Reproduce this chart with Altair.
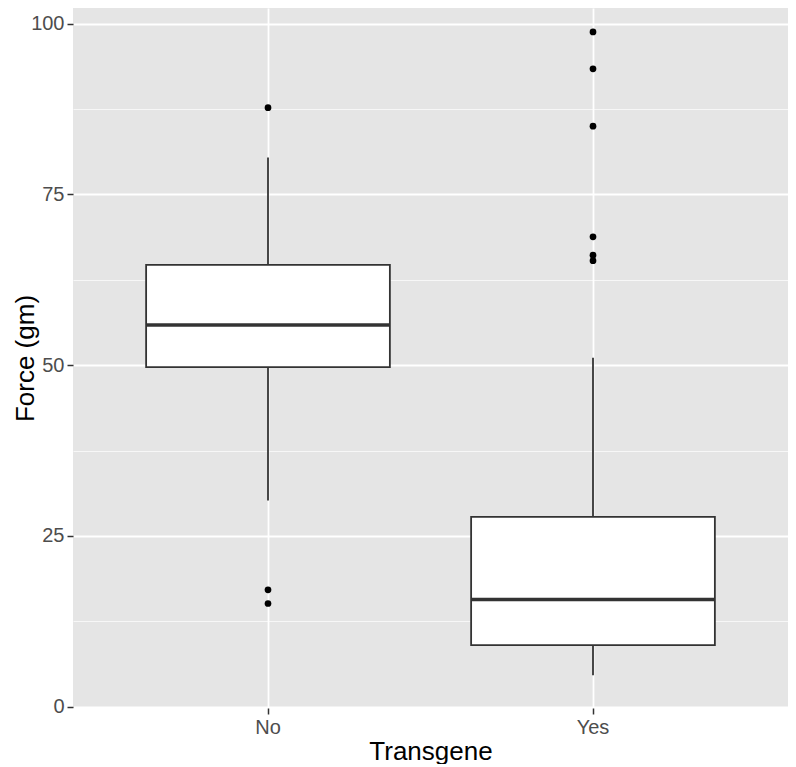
import altair as alt
import pandas as pd

groups = ["No", "Yes"]
q1 = [49.7, 9.0]
median = [55.9, 15.7]
q3 = [64.7, 27.8]
whisker_lo = [30.2, 4.6]
whisker_hi = [80.4, 51.1]

outlier_group = ["No", "No", "No", "Yes", "Yes", "Yes", "Yes", "Yes", "Yes"]
outlier_value = [87.7, 17.1, 15.1, 98.8, 93.4, 85.0, 68.8, 66.1, 65.3]

y_ticks = [0, 12.5, 25, 37.5, 50, 62.5, 75, 87.5, 100]

stats = pd.DataFrame({"g": groups, "q1": q1, "med": median, "q3": q3,
                      "lo": whisker_lo, "hi": whisker_hi})
outs = pd.DataFrame({"g": outlier_group, "v": outlier_value})

W, H = 715, 700
FONT = "Liberation Sans"

major = "datum.value % 25 === 0"

xscale = alt.Scale(domain=groups, paddingInner=0.25, paddingOuter=0.225)
yscale = alt.Scale(domain=[-0.2, 102.3], nice=False, zero=False)

xaxis = alt.Axis(title="Transgene", labelAngle=0, labelFontSize=20, labelColor="#4D4D4D",
                 labelFont=FONT, titleFont=FONT, titleFontSize=26, titleColor="#000000",
                 titleFontWeight="normal", tickColor="#333333", tickSize=6, tickWidth=1.5,
                 labelPadding=3, titlePadding=1,
                 domain=False, grid=True, gridColor="#FFFFFF", gridWidth=1.8)
yaxis = alt.Axis(title="Force (gm)", values=y_ticks, labelFontSize=20, labelColor="#4D4D4D",
                 labelFont=FONT, titleFont=FONT, titleFontSize=26, titleColor="#000000",
                 titleFontWeight="normal", tickColor="#333333", tickSize=6, tickWidth=1.5,
                 tickOpacity={"condition": {"test": major, "value": 1}, "value": 0},
                 labelExpr="datum.value % 25 === 0 ? datum.label : ''",
                 labelPadding=3, titlePadding=-8,
                 domain=False, grid=True, gridColor="#FFFFFF",
                 gridWidth={"condition": {"test": major, "value": 1.8}, "value": 0.7})

base = alt.Chart(stats)

whisk = base.mark_rule(color="#333333", strokeWidth=1.8).encode(
    x=alt.X("g:N", scale=xscale, axis=xaxis, sort=groups),
    y=alt.Y("lo:Q", scale=yscale, axis=yaxis),
    y2="hi:Q",
)
box = base.mark_bar(fill="#FFFFFF", stroke="#333333", strokeWidth=1.8).encode(
    x=alt.X("g:N", scale=xscale, sort=groups),
    y=alt.Y("q1:Q", scale=yscale),
    y2="q3:Q",
)
med = base.mark_tick(color="#333333", thickness=3.5, opacity=1, size=W / 2.2 * 0.75).encode(
    x=alt.X("g:N", scale=xscale, sort=groups),
    y=alt.Y("med:Q", scale=yscale),
)
pts = alt.Chart(outs).mark_circle(color="#000000", size=45, opacity=1).encode(
    x=alt.X("g:N", scale=xscale, sort=groups),
    y=alt.Y("v:Q", scale=yscale),
)

chart = alt.layer(whisk, box, med, pts).properties(
    width=W, height=H,
    autosize=alt.AutoSizeParams(type="none"),
    padding={"left": 65, "top": 0, "right": 0, "bottom": 56},
).configure_view(fill="#E5E5E5", stroke=None)

chart.save("out.html", embed_options={"renderer": "svg", "actions": False})
